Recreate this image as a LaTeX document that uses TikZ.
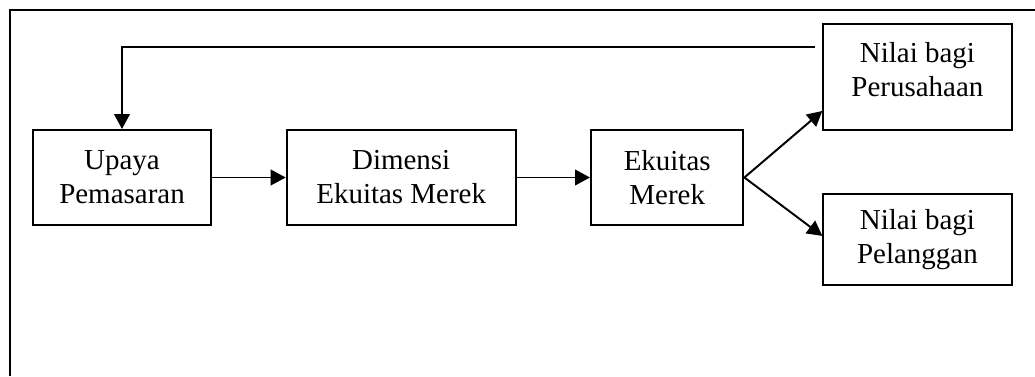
\documentclass[tikz,border=0pt]{standalone}
\usepackage{fontspec}
\setmainfont{Liberation Serif}
\usepackage{tikz}
\usetikzlibrary{arrows.meta, positioning}

\begin{document}
\begin{tikzpicture}[line width=1.4pt,
    every node/.style={font=\fontsize{20.6}{24.2}\selectfont},
    box/.style={draw,align=center,minimum height=2.375cm,inner sep=0pt},
    arr/.style={-{Triangle[length=0.375cm,width=0.39cm]}}]
    \useasboundingbox (0,0) rectangle (25.875,9.4);
    % outer frame
    \draw (0.25,0) -- (0.25,9.15) -- (25.875,9.15);
    \node[box,minimum width=4.435cm](upaya)at(3.05,4.9625){Upaya\\Pemasaran};
    \node[box,minimum width=5.725cm](dimensi)at(10.03,4.9625){Dimensi\\Ekuitas Merek};
    \node[box,minimum width=3.81cm](ekuitas)at(16.68,4.9625){Ekuitas\\Merek};
    \node[box,minimum width=4.705cm,minimum height=2.65cm,text depth=0.4cm](perusahaan)at(22.935,7.475){Nilai bagi\\Perusahaan};
    \node[box,minimum width=4.705cm,minimum height=2.28cm](pelanggan)at(22.935,3.4075){Nilai bagi\\Pelanggan};
    \coordinate (balik) at (20.375,8.225);
    \draw[arr](upaya)--(dimensi);
    \draw[arr](dimensi)--(ekuitas);
    \draw[arr](ekuitas.east)--([yshift=0.5cm]perusahaan.south west);
    \draw[arr](ekuitas.east)--([yshift=-1.07cm]pelanggan.north west);
    \draw[arr](balik)-|(upaya.north);
\end{tikzpicture}
\end{document}
